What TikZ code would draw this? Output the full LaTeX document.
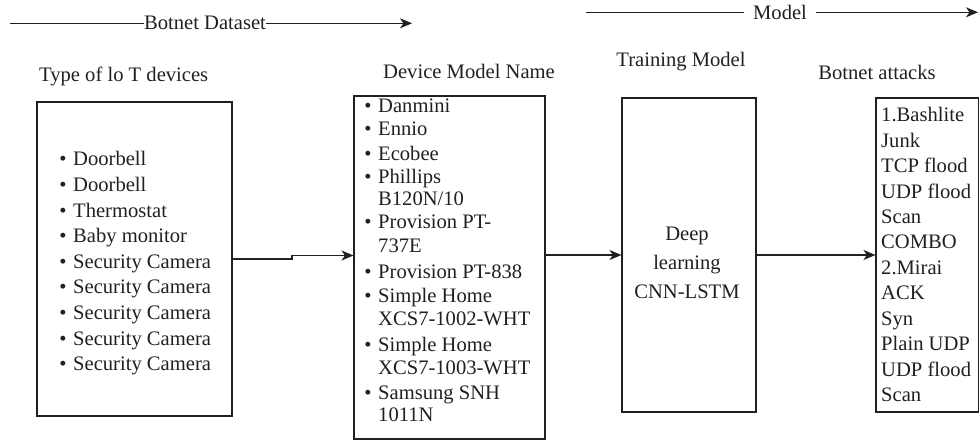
\documentclass[tikz,border=0pt]{standalone}
\usepackage{fontspec}
\setmainfont{Liberation Serif}
\usetikzlibrary{arrows.meta}
\definecolor{ink}{HTML}{231F20}
\newcommand\bul{\llap{•\hspace{6.5pt}}}
\begin{document}
\begin{tikzpicture}[x=1pt,y=-1pt,
  every node/.style={font=\fontsize{20.6}{24}\selectfont, text=ink, inner sep=0pt},
  box/.style={draw=ink, line width=1.1pt, inner sep=0pt},
  arr/.style={draw=ink, line width=1.1pt, -{Stealth[length=12pt,width=10pt,inset=3.5pt]}},
  itm/.style={anchor=base west},
  hdr/.style={anchor=base}]
\useasboundingbox (0,0) rectangle (979,443);

% boxes
\node[box, minimum width=195pt, minimum height=314pt] (b1) at (134.5,259) {};
\node[box, minimum width=191pt, minimum height=343pt] (b2) at (449.5,267.5) {};
\node[box, minimum width=134pt, minimum height=314pt] (b3) at (689,255) {};
\node[box, minimum width=102.5pt, minimum height=314pt] (b4) at (927.25,255) {};

% headers
\node[anchor=base west] (h1) at (39,82) {Type of lo T devices};
\node[hdr] (h2) at (469,79) {Device Model Name};
\node[hdr] (h3) at (681,67) {Training Model};
\node[hdr] (h4) at (877,80) {Botnet attacks};

% box 1 items
\foreach \t [count=\i] in {Doorbell, Doorbell, Thermostat, Baby monitor, Security Camera, Security Camera, Security Camera, Security Camera, Security Camera}
  \node[itm] (d\i) at (73,{166+25.6*(\i-1)}) {\bul\t};

% box 2 items
\foreach \t/\y [count=\i] in {{\bul Danmini}/113, {\bul Ennio}/136, {\bul Ecobee}/161, {\bul Phillips}/184, {B120N/10}/206, {\bul Provision PT-}/229, {737E}/253, {\bul Provision PT-838}/279, {\bul Simple Home}/303, {XCS7-1002-WHT}/326, {\bul Simple Home}/351, {XCS7-1003-WHT}/374, {\bul Samsung SNH}/399, {1011N}/421}
  \node[itm] (m\i) at (378,\y) {\t};

% box 3 text
\node[hdr] (c1) at (687,240.7) {Deep};
\node[hdr] (c2) at (687,270) {learning};
\node[hdr] (c3) at (687,299) {CNN-LSTM};

% box 4 items
\foreach \t [count=\i] in {1.Bashlite, Junk, TCP flood, UDP flood, Scan, COMBO, 2.Mirai, ACK, Syn, Plain UDP, UDP flood, Scan}
  \node[itm] (a\i) at (881,{121.7+25.45*(\i-1)}) {\t};

% connectors
\coordinate (k1) at (292,259);
\coordinate (k2) at (292,255.5);
\draw[arr] (b1.east) -- (k1) -- (k2) -- (b2.west |- k2);
\draw[arr] (b2.east |- b3.west) -- (b3.west);
\draw[arr] (b3.east) -- (b4.west);

% top arrows
\coordinate (ds) at (10,23.3);
\coordinate (de) at (412,23.3);
\draw[arr] (ds) -- node[pos=0.485, fill=white, inner xsep=0.5pt, inner ysep=1pt] (dsl) {Botnet Dataset} (de);
\coordinate (ms) at (586,12.3);
\coordinate (me) at (978,12.3);
\draw[arr] (ms) -- node[pos=0.495, fill=white, inner xsep=9pt, inner ysep=1pt] (mdl) {Model} (me);
\end{tikzpicture}
\end{document}
